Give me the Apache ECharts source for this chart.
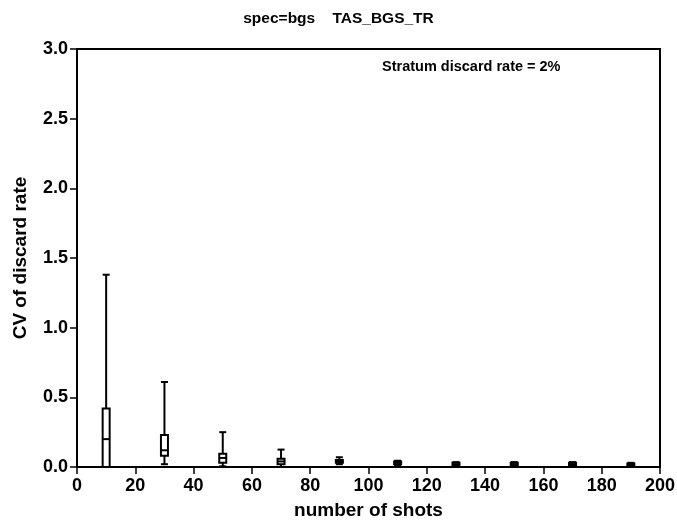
<!DOCTYPE html>
<html><head><meta charset="utf-8">
<script src="https://cdn.jsdelivr.net/npm/echarts@6/dist/echarts.min.js"></script>
<style>html,body{margin:0;padding:0;background:#fff}#c{width:677px;height:530px}</style>
</head><body><div id="c"></div>
<script>
var shots = [10, 30, 50, 70, 90, 110, 130, 150, 170, 190];
var whiskerLow = [0.0, 0.02, 0.005, 0.0, 0.02, 0.01, 0.01, 0.01, 0.01, 0.005];
var q1 = [0.0, 0.08, 0.03, 0.02, 0.03, 0.02, 0.015, 0.015, 0.015, 0.012];
var median = [0.2, 0.12, 0.065, 0.04, 0.04, 0.03, 0.02, 0.02, 0.02, 0.018];
var q3 = [0.42, 0.23, 0.095, 0.06, 0.05, 0.04, 0.03, 0.03, 0.03, 0.025];
var whiskerHigh = [1.38, 0.61, 0.25, 0.125, 0.07, 0.045, 0.035, 0.035, 0.035, 0.03];
var xTicks = [0, 20, 40, 60, 80, 100, 120, 140, 160, 180, 200];
var yTicks = [0.0, 0.5, 1.0, 1.5, 2.0, 2.5, 3.0];

var data = shots.map(function (s, i) {
  return [s, whiskerLow[i], q1[i], median[i], q3[i], whiskerHigh[i]];
});
var FONT = '"Liberation Sans", Arial, sans-serif';
var chart = echarts.init(document.getElementById('c'), null, {renderer: 'canvas'});
chart.setOption({
  animation: false,
  title: {
    text: 'spec=bgs    TAS_BGS_TR', left: 'center', top: 6,
    textStyle: {fontFamily: FONT, fontWeight: 'bold', fontSize: 15.5, color: '#000'}
  },
  grid: {left: 77, right: 17, top: 49, bottom: 63, containLabel: false, outerBoundsMode: 'none',
    show: true, borderColor: '#000', borderWidth: 2, backgroundColor: 'transparent'},
  xAxis: {
    type: 'value', min: 0, max: 200, interval: 20,
    name: 'number of shots', nameLocation: 'middle', nameGap: 34,
    nameTextStyle: {fontFamily: FONT, fontWeight: 'bold', fontSize: 19, color: '#000'},
    axisLine: {show: true, lineStyle: {color: '#000', width: 2}},
    axisTick: {show: true, inside: false, length: 7, lineStyle: {color: '#000', width: 1.5}},
    axisLabel: {fontFamily: FONT, fontWeight: 'bold', fontSize: 18, color: '#000', margin: 10,
      formatter: function (v) { return xTicks.indexOf(v) >= 0 ? String(v) : ''; }},
    splitLine: {show: false}
  },
  yAxis: {
    type: 'value', min: 0, max: 3, interval: 0.5,
    name: 'CV of discard rate', nameLocation: 'middle', nameGap: 47, nameRotate: 90,
    nameTextStyle: {fontFamily: FONT, fontWeight: 'bold', fontSize: 19, color: '#000'},
    axisLine: {show: true, lineStyle: {color: '#000', width: 2}},
    axisTick: {show: true, inside: false, length: 7, lineStyle: {color: '#000', width: 1.5}},
    axisLabel: {fontFamily: FONT, fontWeight: 'bold', fontSize: 18, color: '#000', margin: 9,
      formatter: function (v) { return yTicks.indexOf(v) >= 0 ? v.toFixed(1) : ''; }},
    splitLine: {show: false}
  },
  graphic: [{
    type: 'text', left: 382, top: 59,
    style: {text: 'Stratum discard rate = 2%', font: 'bold 14.5px ' + FONT, fill: '#000'}
  }],
  series: [{
    type: 'custom',
    data: data,
    encode: {x: 0, y: [1, 2, 3, 4, 5]},
    renderItem: function (params, api) {
      var x = api.value(0);
      var pLow = api.coord([x, api.value(1)]);
      var pQ1 = api.coord([x, api.value(2)]);
      var pMed = api.coord([x, api.value(3)]);
      var pQ3 = api.coord([x, api.value(4)]);
      var pHigh = api.coord([x, api.value(5)]);
      var hw = 3.5;
      var cx = pLow[0];
      var st = {stroke: '#000', lineWidth: 2, fill: 'none'};
      return {
        type: 'group',
        children: [
          {type: 'line', shape: {x1: cx, y1: pHigh[1], x2: cx, y2: pQ3[1]}, style: st},
          {type: 'line', shape: {x1: cx, y1: pQ1[1], x2: cx, y2: pLow[1]}, style: st},
          {type: 'line', shape: {x1: cx - hw, y1: pHigh[1], x2: cx + hw, y2: pHigh[1]}, style: st},
          {type: 'line', shape: {x1: cx - hw, y1: pLow[1], x2: cx + hw, y2: pLow[1]}, style: st},
          {type: 'rect', shape: {x: cx - hw, y: pQ3[1], width: 2 * hw, height: pQ1[1] - pQ3[1]}, style: {stroke: '#000', lineWidth: 2, fill: '#fff'}},
          {type: 'line', shape: {x1: cx - hw, y1: pMed[1], x2: cx + hw, y2: pMed[1]}, style: st}
        ]
      };
    }
  }]
});
</script></body></html>
